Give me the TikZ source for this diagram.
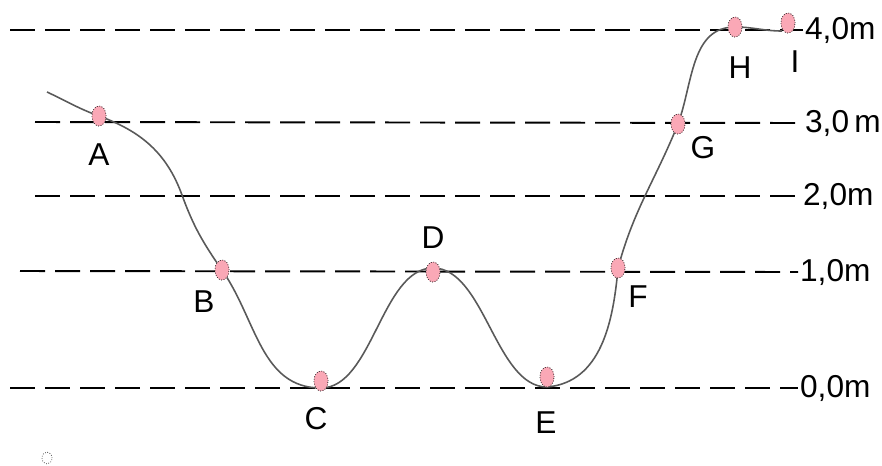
\documentclass[tikz,border=0pt]{standalone}
\usepackage{fontspec}
\setmainfont{Liberation Sans}
\usepackage{xcolor}
\usetikzlibrary{shapes.geometric}
\definecolor{ptpink}{RGB}{250,168,182}

\begin{document}
\begin{tikzpicture}[x=0.2mm, y=-0.2mm,
  level/.style={line width=1.1pt, dash pattern=on 5mm off 2mm},
  pt/.style={ellipse, draw=black!85, densely dotted, fill=ptpink,
    minimum width=2.8mm, minimum height=4mm, inner sep=0pt},
  lbl/.style={font=\fontsize{18}{20}\selectfont, inner sep=0pt},
  hgt/.style={font=\fontsize{18}{20}\selectfont, anchor=west, inner sep=1pt},
  track/.style={line width=0.9pt, black!65}
]
\useasboundingbox (0,0) rectangle (882,465);

% height levels
\node[hgt] (h4) at (803,30) {4,0m};
\node[hgt] (h3) at (803,123) {3,0\,m};
\node[hgt] (h2) at (801,196) {2,0m};
\node[hgt] (h1) at (798,272) {1,0m};
\node[hgt] (h0) at (798,388) {0,0m};
\coordinate (s4) at (10,30);
\coordinate (s3) at (35,122);
\coordinate (s2) at (35,196);
\coordinate (s1) at (20,271);
\coordinate (s0) at (10,388);
\foreach \i in {0,...,4}
  \draw[level] (s\i) -- (h\i.west);

% points on the track
\node[pt] (A) at (99,116) {};
\node[pt] (B) at (222,270) {};
\node[pt] (C) at (321,381) {};
\node[pt] (D) at (433,272) {};
\node[pt] (E) at (547,377) {};
\node[pt] (F) at (618,268) {};
\node[pt] (G) at (678,124) {};
\node[pt] (H) at (735,27) {};
\node[pt] (I) at (788,23) {};
\coordinate (start) at (47,92);
\coordinate (bend) at (182,195);
\coordinate (stop) at (782,31);

\draw[track] (start) to[out=-25,in=160] (A.center)
  to[out=-20,in=110] (bend)
  to[out=-70,in=125] (B.center)
  to[out=-55,in=180] (321,388)
  to[out=0,in=180,looseness=0.8] (433,268)
  to[out=0,in=180,looseness=0.8] (547,387)
  to[out=5,in=-95] (F.center)
  to[out=75,in=-112] (G.center)
  to[out=70,in=180] (H.center)
  to[out=0,in=180] (stop);

% redraw points over the track
\foreach \p in {A,B,C,D,E,F,G,H,I}
  \node[pt] at (\p) {};

% point labels
\node[lbl] (lA) at (99,155) {A};
\node[lbl] (lB) at (204,302) {B};
\node[lbl] (lC) at (316,419) {C};
\node[lbl] (lD) at (433,238) {D};
\node[lbl] (lE) at (546,423) {E};
\node[lbl] (lF) at (638,297) {F};
\node[lbl] (lG) at (703,148) {G};
\node[lbl] (lH) at (740,68) {H};
\node[lbl] (lI) at (795,62) {I};

\node[ellipse, draw=black!80, densely dotted, minimum width=2mm,
  minimum height=2.4mm, inner sep=0pt] (mark) at (47,458) {};
\end{tikzpicture}
\end{document}
